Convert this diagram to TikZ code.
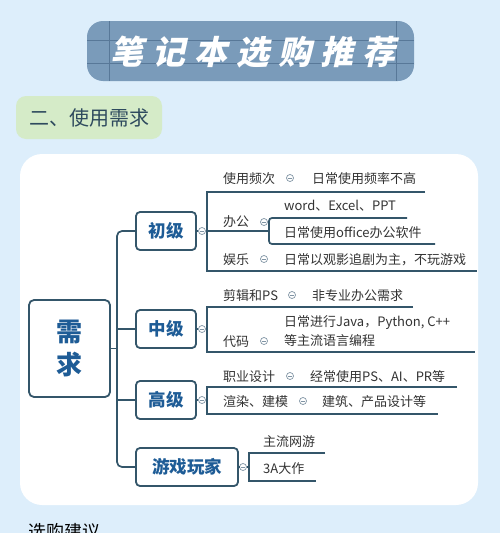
\documentclass[tikz,border=0pt]{standalone}
\usepackage{fontspec}
\setmainfont{Noto Sans CJK SC}
\newfontfamily\titlefont[FakeSlant=0.22,LetterSpace=27]{Noto Sans CJK SC}
\usetikzlibrary{positioning}
\definecolor{pagebg}{RGB}{221,238,251}
\definecolor{barblue}{RGB}{122,155,186}
\definecolor{bargrid}{RGB}{88,120,152}
\definecolor{taggreen}{RGB}{213,235,200}
\definecolor{tagtext}{RGB}{46,74,94}
\definecolor{linecol}{RGB}{52,86,106}
\definecolor{lvlblue}{RGB}{30,92,150}
\definecolor{leafgray}{RGB}{51,51,51}
\definecolor{dotgray}{RGB}{128,148,164}

\begin{document}
\begin{tikzpicture}[x=1pt,y=-1pt,
  titlebar/.style={fill=barblue,rounded corners=16pt,minimum width=327pt,minimum height=60pt,
                   path picture={
                     \draw[bargrid,line width=0.8pt]
                       ([yshift=-19pt]path picture bounding box.north west) -- ([yshift=-19pt]path picture bounding box.north east)
                       ([yshift=-42pt]path picture bounding box.north west) -- ([yshift=-42pt]path picture bounding box.north east)
                       ([xshift=22pt]path picture bounding box.north west) -- ([xshift=22pt]path picture bounding box.south west)
                       ([xshift=-18pt]path picture bounding box.north east) -- ([xshift=-18pt]path picture bounding box.south east);}},
  titletext/.style={text=white,font=\titlefont\bfseries\fontsize{33}{36}\selectfont,inner sep=0pt},
  tag/.style={fill=taggreen,rounded corners=10pt,minimum width=146pt,minimum height=43pt,
              text=tagtext,font=\fontsize{20}{24}\selectfont},
  panel/.style={fill=white,rounded corners=22pt,minimum width=458pt,minimum height=351pt},
  root/.style={draw=linecol,fill=white,line width=1.8pt,rounded corners=5pt,
               minimum width=81pt,minimum height=97pt,align=center,text=lvlblue,
               font=\bfseries\fontsize{26}{33}\selectfont},
  level/.style={draw=linecol,fill=white,line width=1.8pt,rounded corners=4pt,
                minimum width=60pt,minimum height=38pt,text=lvlblue,
                font=\bfseries\fontsize{17.5}{20}\selectfont},
  leaf/.style={anchor=base west,inner sep=0pt,text=leafgray,font=\fontsize{13}{19}\selectfont},
  dot/.style={circle,draw=dotgray,fill=white,line width=0.7pt,minimum size=7pt,inner sep=0pt,
              path picture={\draw[dotgray,line width=0.6pt]
                ([xshift=-1.8pt]path picture bounding box.center) -- ([xshift=1.8pt]path picture bounding box.center);}},
  link/.style={draw=linecol,line width=1.7pt}
]
  \fill[pagebg] (0,0) rectangle (500,533);
  \useasboundingbox (0,0) rectangle (500,533);

  % Header
  \node[titlebar] (bar) at (250.5,51) {};
  \node[titletext] (title) at (253,52) {笔记本选购推荐};
  \node[tag] (sect) at (89,117.5) {二、使用需求};
  \node[panel] (panel) at (249,329.5) {};
  \node[leaf,font=\fontsize{18}{22}\selectfont,text=black] (next) at (28,538) {选购建议};

  % Root and levels
  \node[root] (need) at (69.5,348.5) {需\\求};
  \node[level] (basic) at (166,231) {初级};
  \node[level] (mid)   at (166,329) {中级};
  \node[level] (adv)   at (166,400) {高级};
  \node[level,minimum width=102pt] (game) at (187,467) {游戏玩家};
  \coordinate (trunk) at (117,348.5);

  \draw[link] (need.east) -- (trunk);
  \draw[link,rounded corners=5pt] (basic.west) -| (trunk) |- (game.west);
  \draw[link] (mid.west) -- (mid.west -| trunk);
  \draw[link] (adv.west) -- (adv.west -| trunk);

  % Toggles
  \node[dot] (dbasic) at (202,231) {};
  \node[dot] (dmid)   at (202,329) {};
  \node[dot] (dadv)   at (202,400) {};
  \node[dot] (dgame)  at (243,467) {};
  \draw[link] (basic.east) -- (dbasic);
  \draw[link] (mid.east) -- (dmid);
  \draw[link] (adv.east) -- (dadv);
  \draw[link] (game.east) -- (dgame);

  % Basic
  \node[leaf] (freq)  at (223,183) {使用频次};
  \node[dot]  (dfreq) at (290,178) {};
  \node[leaf] (freqv) at (312,183) {日常使用频率不高};
  \node[leaf] (work)  at (223,226) {办公};
  \node[dot]  (dwork) at (264,222) {};
  \node[leaf] (worka) at (284,210) {word、Excel、PPT};
  \node[leaf] (workb) at (284,237) {日常使用office办公软件};
  \node[leaf] (fun)   at (223,264) {娱乐};
  \node[dot]  (dfun)  at (264,259) {};
  \node[leaf] (funv)  at (284,264) {日常以观影追剧为主，不玩游戏};
  \draw[link] (dbasic) -- (269,231);
  \draw[link] (425,192) -- (207,192) -- (207,271) -- (477,271);
  \draw[link,rounded corners=3pt] (407,218) -- (269,218) -- (269,244) -- (435,244);

  % Middle
  \node[leaf] (edit)  at (223,300) {剪辑和PS};
  \node[dot]  (dedit) at (292,295) {};
  \node[leaf] (editv) at (312,300) {非专业办公需求};
  \node[leaf] (code)  at (223,346) {代码};
  \node[dot]  (dcode) at (264,341) {};
  \node[leaf,anchor=west,align=left] (codev) at (284,331.5) {日常进行Java，Python, C++\\等主流语言编程};
  \draw[link] (dmid) -- (207,329);
  \draw[link] (413,307) -- (207,307) -- (207,352) -- (475,352);

  % Advanced
  \node[leaf] (pro)    at (223,381) {职业设计};
  \node[dot]  (dpro)   at (290,376) {};
  \node[leaf] (prov)   at (310,381) {经常使用PS、AI、PR等};
  \node[leaf] (model)  at (223,406) {渲染、建模};
  \node[dot]  (dmodel) at (303,401) {};
  \node[leaf] (modelv) at (322,406) {建筑、产品设计等};
  \draw[link] (dadv) -- (207,400);
  \draw[link] (457,387) -- (207,387) -- (207,414) -- (438,414);

  % Gamer
  \node[leaf] (online) at (263,446) {主流网游};
  \node[leaf] (aaa)    at (263,473) {3A大作};
  \draw[link] (dgame) -- (249,467);
  \draw[link] (325,453) -- (249,453) -- (249,481) -- (316,481);
\end{tikzpicture}
\end{document}
